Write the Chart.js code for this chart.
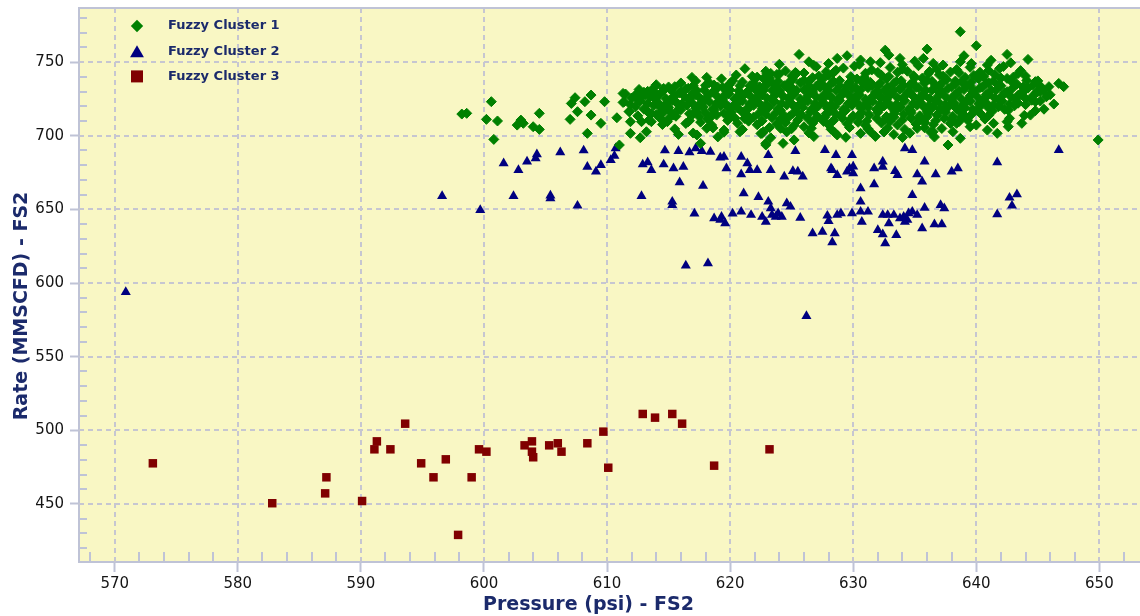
<!DOCTYPE html>
<html>
<head>
<meta charset="utf-8">
<title>Fuzzy clusters - Rate vs Pressure (FS2)</title>
<script src="https://cdn.jsdelivr.net/npm/chart.js@4.4.1/dist/chart.umd.min.js"></script>
<style>
    html, body { margin: 0; padding: 0; background: #ffffff; }
    #wrap { width: 1140px; height: 616px; }
</style>
</head>
<body>
<div id="wrap"><canvas id="cluster-chart" width="1140" height="616"></canvas></div>
<script>
/**
 * Fuzzy clustering of well FS2 — rate vs pressure scatter
 */

// Axis ranges and ticks
const xRange = [567.1, 653.3];
const yRange = [410.6, 786.7];
const xTicks = [570, 580, 590, 600, 610, 620, 630, 640, 650];
const yTicks = [450, 500, 550, 600, 650, 700, 750];
const xMinorTicks = [568, 572, 574, 576, 578, 582, 584, 586, 588, 592, 594, 596, 598,
    602, 604, 606, 608, 612, 614, 616, 618, 622, 624, 626, 628, 632, 634, 636, 638,
    642, 644, 646, 648, 652];
const yMinorTicks = [420, 430, 440, 460, 470, 480, 490, 510, 520, 530, 540, 560, 570,
    580, 590, 610, 620, 630, 640, 660, 670, 680, 690, 710, 720, 730, 740, 760, 770, 780];

const xTitle = 'Pressure (psi) - FS2';
const yTitle = 'Rate (MMSCFD) - FS2';
const seriesNames = ['Fuzzy Cluster 1', 'Fuzzy Cluster 2', 'Fuzzy Cluster 3'];
const seriesColors = ['#008000', '#000080', '#800000'];

// [pressure, rate]
const cluster1 = [
    // sparse left / edge points
    [598.2,714.7],[598.6,715.2],[600.6,723.1],[600.2,711.1],[601.1,710.0],[600.8,697.5],
    [603.0,710.6],[602.7,707.2],[603.2,708.4],[604.0,706.1],[604.5,704.3],[604.5,715.2],
    [607.0,711.1],[607.1,721.9],[607.4,725.8],[607.6,716.3],[608.2,723.1],[608.7,727.6],
    [608.7,714.0],[608.4,701.6],[609.5,708.4],[609.8,723.1],[610.8,712.2],[611.0,693.7],
    [611.3,728.7],[611.4,723.1],[611.8,716.3],[611.9,709.5],[612.3,727.6],[612.6,729.4],
    [612.8,709.5],[613.1,727.6],[613.5,729.2],[613.3,716.3],[613.8,729.4],[611.9,701.6],
    [612.7,698.6],[613.2,702.7],[613.6,709.5],[614.2,721.9],[614.3,715.2],[614.6,732.1],
    [614.9,709.5],[615.1,724.2],[615.5,733.3],[615.7,721.9],[615.4,714.0],[615.8,700.9],
    [616.4,731.7],[616.6,709.5],[616.9,739.6],[618.1,739.6],[617.3,700.5],[617.6,694.8],
    [618.1,705.0],[618.7,734.4],[618.9,714.0],[619.5,703.8],[619.9,734.4],[619.8,714.0],
    [620.7,727.6],[620.8,702.7],[621.2,711.8],[621.9,733.3],[622.4,728.7],[622.6,701.6],
    [622.9,694.8],[623.0,742.3],
    [638.7,770.6],[640.0,761.1],[632.6,758.1],[636.0,758.8],[642.5,755.2],[639.0,754.3],
    [625.6,755.2],[632.9,754.7],[633.8,752.5],[644.2,751.8],[628.7,752.5],[629.5,754.3],
    [630.6,751.4],[631.4,750.2],[626.4,750.2],[635.7,752.5],[636.5,749.1],[638.7,750.2],
    [640.9,748.0],[641.9,745.7],[643.4,742.3],[623.3,742.3],[623.8,741.6],[625.4,742.3],
    [640.3,741.2],[644.8,736.7],[645.9,733.3],[646.7,735.5],[647.1,733.3],[645.0,729.9],
    [645.7,726.5],[645.2,723.5],[644.4,714.0],[643.7,708.4],[642.7,711.8],[642.6,706.1],
    [641.4,708.4],[640.9,703.8],[641.7,701.6],[639.5,706.1],[639.0,714.0],[638.4,708.4],
    [638.1,702.7],[638.7,698.2],[637.7,693.7],[636.5,702.7],[622.9,693.7],[624.3,694.8],
    [625.2,697.1],[624.2,711.8],[624.1,705.0],[626.0,706.1],[628.7,700.5],[631.4,702.7],
    [633.3,700.9],[635.2,705.0],[622.7,702.7],[649.9,697.1],
    [630.5,748.5],[632.2,749.6],[634.0,748.2],[635.0,750.6],[637.3,748.0],[639.6,749.0],
    [641.2,751.2],[642.8,749.5],[628.0,749.0],[626.8,747.8],[624.0,748.5],
    [645.5,718.0],[646.3,721.5],[646.0,727.8],[644.8,717.0],[643.9,713.8],[642.5,709.5],
    // dense body
    [621.2,745.5],[624.5,744.0],[627.0,746.8],[627.8,743.5],[629.2,745.9],[630.1,747.2],
    [631.5,744.6],[633.0,746.3],[634.4,743.8],[635.3,747.5],[636.8,745.1],[637.9,743.2],
    [639.5,746.4],[641.0,744.3],[642.2,747.0],
    [622.9,743.8],[625.3,742.9],[628.6,744.4],[632.0,743.0],[634.0,745.2],[636.2,743.6],
    [638.4,744.9],[640.3,743.1],[643.6,744.2],
    [620.5,741.2],[622.2,739.8],[624.0,741.9],[626.0,742.6],[627.2,740.5],[628.4,742.9],
    [629.8,740.1],[631.0,742.4],[632.3,741.0],[633.6,743.1],[634.9,740.7],[636.1,742.2],
    [637.3,740.4],[638.6,742.8],[639.8,740.9],[641.5,741.6],[643.0,739.7],
    [621.8,740.3],[623.2,739.1],[625.0,740.6],[626.7,739.4],[628.0,741.0],[630.9,739.6],
    [632.9,740.2],[635.6,739.0],[637.0,741.3],[639.1,739.5],[640.6,740.1],[642.0,739.2],
    [644.0,740.5],
    [617.2,737.1],[619.3,738.6],[621.0,736.5],[622.7,738.9],[623.9,736.8],[625.1,738.2],
    [626.4,737.0],[627.6,739.1],[628.9,737.4],[630.3,738.5],[631.4,736.2],[632.7,738.8],
    [633.9,737.3],[635.0,739.4],[636.4,736.9],[637.6,738.1],[638.8,736.6],[640.2,738.7],
    [641.4,737.2],[642.5,738.9],[644.1,737.5],
    [618.3,736.0],[620.2,737.3],[621.9,735.8],[623.3,737.0],[624.8,736.3],[626.0,737.6],
    [627.3,735.9],[628.4,736.8],[629.7,736.1],[631.0,737.4],[632.2,735.7],[633.5,736.9],
    [634.8,736.2],[636.0,737.5],[637.2,735.8],[638.3,737.1],[639.6,736.4],[641.0,735.9],
    [642.9,736.6],[645.0,737.2],
    [614.0,734.6],[616.0,735.8],[618.0,734.2],[620.0,735.5],[621.6,733.9],[623.0,735.1],
    [624.4,734.0],[625.7,735.9],[627.0,733.6],[628.2,735.3],[629.5,734.1],[630.8,735.7],
    [632.0,733.8],[633.3,735.4],[634.6,734.3],[635.8,736.0],[637.0,733.7],[638.3,735.2],
    [639.5,734.0],[640.8,735.6],[642.0,733.9],[643.3,735.0],[644.6,734.2],
    [615.0,733.1],[617.0,733.9],[619.0,732.9],[620.8,734.0],[622.4,733.2],[623.7,733.8],
    [625.0,732.7],[626.4,734.1],[627.7,733.0],[628.9,733.7],[630.2,732.8],[631.5,734.2],
    [632.8,733.1],[634.1,733.9],[635.3,732.6],[636.7,734.0],[638.0,733.3],[639.2,733.8],
    [640.5,732.9],[641.8,734.1],[643.8,733.0],[645.2,733.7],
    [612.6,731.4],[613.8,732.5],[615.2,730.9],[616.6,732.2],[617.9,731.0],[619.4,732.8],
    [620.7,730.6],[622.0,731.9],[623.4,730.8],[624.7,732.4],[626.0,731.2],[627.3,732.9],
    [628.6,730.7],[629.9,731.8],[631.2,732.6],[632.5,730.5],[633.8,731.7],[635.1,732.7],
    [636.4,730.9],[637.7,732.1],[639.0,731.3],[640.3,732.6],[641.6,730.8],[642.9,731.9],
    [644.2,732.3],[645.5,730.6],
    [613.3,730.1],[614.6,730.8],[616.0,729.9],[617.3,730.6],[618.7,730.2],[620.0,731.0],
    [621.4,729.8],[622.7,730.7],[624.0,730.1],[625.4,730.9],[626.7,729.7],[628.0,730.5],
    [629.3,730.0],[630.6,731.1],[632.0,729.9],[633.3,730.6],[634.6,730.2],[635.9,730.8],
    [637.2,729.8],[638.6,730.7],[639.9,730.1],[641.2,730.9],[642.5,729.9],[643.9,730.6],
    [645.2,730.0],
    [611.5,728.3],[613.0,729.5],[614.3,728.0],[615.9,729.2],[617.2,727.9],[618.6,729.7],
    [619.9,728.4],[621.3,729.0],[622.6,727.7],[623.8,729.4],[625.2,728.2],[626.5,729.8],
    [627.9,728.1],[629.2,729.3],[630.5,727.8],[631.8,729.6],[633.1,728.5],[634.4,729.1],
    [635.7,727.6],[637.0,729.4],[638.4,728.3],[639.7,729.9],[641.0,728.0],[642.3,729.2],
    [643.6,728.6],[644.9,729.5],
    [612.8,727.0],[614.1,727.8],[615.5,726.9],[616.9,727.6],[618.2,727.2],[619.6,728.0],
    [621.0,726.8],[622.3,727.5],[623.6,727.1],[625.0,727.9],[626.3,726.9],[627.6,727.7],
    [629.0,727.0],[630.3,727.8],[631.6,726.8],[632.9,727.6],[634.2,727.2],[635.6,727.9],
    [636.9,726.8],[638.2,727.4],[639.5,727.0],[640.8,727.8],[642.1,726.9],[643.4,727.5],
    [644.6,727.1],
    [612.0,725.6],[613.5,726.4],[614.8,725.1],[616.3,726.7],[617.6,725.3],[619.0,726.2],
    [620.4,724.9],[621.7,726.5],[623.0,725.4],[624.3,726.8],[625.7,725.0],[627.0,726.3],
    [628.3,725.5],[629.7,726.9],[631.0,724.8],[632.2,726.1],[633.6,725.7],[634.9,726.6],
    [636.2,725.2],[637.5,726.4],[638.8,724.9],[640.1,726.2],[641.5,725.6],[642.8,726.7],
    [644.0,725.3],
    [612.5,724.0],[613.9,724.8],[615.3,723.9],[616.7,724.6],[618.0,724.2],[619.4,725.0],
    [620.8,723.8],[622.1,724.5],[623.5,724.1],[624.8,724.9],[626.1,723.9],[627.5,724.7],
    [628.8,724.0],[630.1,724.8],[631.4,723.8],[632.7,724.6],[634.1,724.2],[635.4,724.9],
    [636.7,723.8],[638.0,724.4],[639.3,724.0],[640.6,724.8],[641.9,723.9],[643.2,724.5],
    [644.5,724.1],
    [611.3,722.6],[612.7,723.4],[614.1,722.1],[615.5,723.8],[616.9,722.4],[618.3,723.1],
    [619.6,721.9],[621.0,723.6],[622.3,722.5],[623.6,723.3],[625.0,721.8],[626.3,723.5],
    [627.6,722.2],[628.9,723.9],[630.3,722.7],[631.6,723.2],[632.9,721.9],[634.2,723.7],
    [635.5,722.4],[636.9,723.0],[638.2,722.0],[639.5,723.6],[640.8,722.3],[642.1,723.4],
    [643.4,722.1],[644.8,723.1],
    [611.9,721.0],[613.3,721.8],[614.7,720.9],[616.1,721.6],[617.5,721.2],[618.9,722.0],
    [620.3,720.8],[621.6,721.5],[622.9,721.1],[624.2,721.9],[625.6,720.9],[626.9,721.7],
    [628.2,721.0],[629.6,721.8],[630.9,720.8],[632.2,721.6],[633.5,721.2],[634.9,721.9],
    [636.2,720.8],[637.5,721.4],[638.9,721.0],[640.2,721.8],[641.4,720.9],[642.7,721.5],
    [644.0,721.1],
    [612.3,719.6],[613.8,720.5],[615.0,719.2],[616.5,720.8],[617.8,719.4],[619.2,720.3],
    [620.6,719.0],[621.9,720.6],[623.2,719.7],[624.6,720.9],[625.9,719.3],[627.2,720.4],
    [628.5,719.8],[629.9,720.7],[631.2,719.1],[632.5,720.2],[633.8,719.5],[635.2,720.8],
    [636.5,719.4],[637.8,720.1],[639.1,719.0],[640.4,720.6],[641.8,719.7],[643.1,720.3],
    [613.0,718.0],[614.4,718.8],[615.8,717.9],[617.2,718.6],[618.6,718.2],[619.9,719.0],
    [621.3,717.8],[622.6,718.5],[623.9,718.1],[625.3,718.9],[626.6,717.9],[627.9,718.7],
    [629.2,718.0],[630.6,718.8],[631.9,717.8],[633.2,718.6],[634.5,718.2],[635.8,718.9],
    [637.1,717.8],[638.4,718.4],[639.7,718.0],[641.0,718.8],[642.3,717.9],
    [611.8,716.5],[613.2,717.4],[614.6,716.1],[616.0,717.6],[617.3,716.3],[618.7,717.2],
    [620.1,716.0],[621.4,717.8],[622.8,716.6],[624.1,717.1],[625.4,716.2],[626.8,717.5],
    [628.1,716.4],[629.4,717.3],[630.7,716.0],[632.1,717.7],[633.4,716.5],[634.7,717.0],
    [636.0,716.3],[637.4,717.6],[638.7,716.1],[640.0,717.3],[641.3,716.6],[642.6,717.2],
    [613.6,715.0],[615.2,715.8],[616.7,714.9],[618.0,715.6],[619.5,715.2],[621.0,716.0],
    [622.3,714.8],[623.7,715.5],[625.1,715.1],[626.5,715.9],[627.8,714.9],[629.2,715.7],
    [630.6,715.0],[632.0,715.8],[633.3,714.8],[634.7,715.6],[636.1,715.2],[637.5,715.9],
    [638.9,714.8],[640.3,715.4],
    [612.5,713.5],[614.0,714.4],[615.6,713.2],[617.0,714.7],[618.5,713.3],[619.9,714.1],
    [621.5,713.0],[622.9,714.6],[624.4,713.6],[625.8,714.2],[627.1,713.1],[628.6,714.5],
    [630.0,713.4],[631.3,714.3],[632.7,713.0],[634.1,714.6],[635.4,713.5],[636.8,714.0],
    [638.1,713.2],[639.6,714.4],[641.0,713.7],
    [614.3,712.0],[617.5,712.8],[620.4,711.9],[621.9,712.6],[623.4,712.2],[624.8,713.0],
    [626.3,711.8],[627.7,712.5],[629.1,712.1],[630.5,712.9],[631.9,711.9],[633.3,712.7],
    [634.7,712.0],[636.0,712.8],[637.4,711.8],[638.8,712.6],
    [613.4,710.6],[615.0,711.5],[616.7,710.2],[618.2,711.3],[619.8,710.4],[621.2,711.7],
    [622.6,710.1],[624.1,711.2],[625.5,710.5],[627.0,711.6],[628.4,710.3],[629.8,711.4],
    [631.1,710.0],[632.6,711.1],[634.0,710.7],[635.4,711.8],[636.7,710.2],[638.0,711.0],
    [639.3,710.5],[640.7,711.3],
    [617.6,709.2],[621.5,709.9],[624.5,708.9],[627.6,709.7],[630.4,709.1],[633.0,709.8],
    [635.8,709.0],[638.6,709.6],
    [614.5,707.6],[616.4,708.3],[618.5,707.2],[620.6,708.5],[622.2,707.4],[623.8,708.1],
    [625.2,707.0],[626.7,708.4],[628.0,707.5],[629.5,708.2],[631.0,707.1],[632.3,708.6],
    [633.6,707.3],[635.1,708.0],[636.5,707.6],[637.9,708.3],[640.0,707.2],
    [615.5,704.6],[618.6,705.3],[621.0,704.2],[623.2,705.5],[625.0,704.8],[626.6,705.1],
    [628.2,704.4],[629.7,705.6],[631.2,704.7],[632.8,705.2],[634.2,704.3],[635.8,705.4],
    [637.2,704.9],
    [617.0,701.8],[619.5,702.4],[622.5,701.5],[624.6,702.6],[626.4,701.9],[628.5,702.2],
    [630.6,701.6],[632.5,702.5],[634.6,701.7],[636.3,702.3],
    [619.0,699.2],[623.3,698.6],[626.8,699.4],[629.4,698.9],[631.8,699.5],[634.0,698.8],
    [636.6,699.1],
];

const cluster2 = [
    [601.6,681.2],[602.8,676.7],[603.5,682.4],[604.2,684.6],[604.3,687.3],[606.2,688.7],
    [608.1,690.0],[608.4,678.9],[609.1,675.6],[609.5,680.1],[610.3,683.5],[610.6,686.4],
    [610.7,691.4],[612.9,680.5],[613.3,681.9],[613.6,676.7],[614.6,680.5],[614.7,690.0],
    [615.4,677.8],[615.8,689.6],[616.2,678.9],[616.7,688.7],[617.2,691.4],[617.7,689.6],
    [618.4,689.1],[619.2,685.1],[619.5,685.7],[619.7,677.8],[620.9,685.7],[620.9,673.8],
    [621.4,681.2],[621.6,676.7],[622.2,676.7],[623.1,686.9],[623.3,676.7],[624.4,672.2],
    [625.1,676.0],[625.3,689.6],[625.5,675.6],[625.9,672.2],[627.7,690.3],[628.2,677.8],
    [628.6,686.9],[628.7,673.3],[629.7,677.8],[629.9,686.9],[630.0,674.4],[630.6,664.3],
    [630.6,655.2],[631.7,667.0],[631.7,677.8],[632.4,678.9],[632.4,682.4],[633.4,676.0],
    [633.6,673.3],[634.2,691.4],[634.8,690.3],[634.8,659.7],[635.2,673.8],[635.6,668.8],
    [635.8,682.4],[636.7,673.8],[638.0,675.6],[638.5,677.8],[641.7,681.9],[646.7,690.3],
    [642.7,657.9],[643.3,660.2],[642.9,652.5],[641.7,646.6],
    [596.6,659.0],[599.7,649.5],[602.4,659.0],[605.4,659.3],[605.4,657.5],[607.6,652.5],
    [612.8,659.0],[615.3,655.2],[615.3,652.9],[615.9,668.3],[617.1,647.1],[617.8,666.0],
    [618.7,643.9],[619.3,645.0],[619.6,640.5],[620.2,647.1],[620.9,648.4],[621.1,660.9],
    [621.7,646.2],[622.3,658.4],[622.6,645.0],[622.9,641.6],[623.1,655.2],[623.3,650.7],
    [623.7,645.0],[624.2,645.0],[624.6,654.1],[624.9,651.8],[625.7,644.3],[626.7,633.7],
    [627.5,634.8],[627.9,645.7],[628.0,642.1],[628.5,633.7],[628.3,627.6],[628.7,646.2],
    [629.0,647.3],[629.9,647.3],[630.6,648.4],[630.7,641.6],[631.2,648.4],[632.0,635.9],
    [632.4,633.0],[632.6,626.9],[632.4,646.2],[632.9,640.5],[633.3,646.2],[633.5,632.6],
    [633.8,643.9],[634.1,645.0],[634.4,642.8],[634.8,648.4],[635.2,646.2],[635.6,637.1],
    [635.8,651.1],[636.6,639.8],[637.2,639.8],[637.1,652.9],[637.4,650.7],
    [623.4,646.2],[623.9,647.3],[629.5,675.6],[630.0,679.0],[634.2,641.6],[634.5,647.3],
    [628.3,676.7],[619.2,642.8],[632.8,646.2],
    [616.4,611.8],[618.2,613.3],[626.2,577.6],[570.9,593.9],
];

const cluster3 = [
    [573.1,477.6],[582.8,450.5],[587.1,457.2],[587.2,468.1],[590.1,452.0],[591.1,487.1],
    [591.3,492.5],[592.4,487.1],[593.6,504.5],[594.9,477.6],[595.9,468.1],[596.9,480.3],
    [597.9,429.0],[599.0,468.1],[599.6,487.1],[600.2,485.5],[603.3,489.8],[603.9,492.5],
    [603.9,485.5],[604.0,481.7],[605.3,489.8],[606.0,491.2],[606.3,485.5],[608.4,491.2],
    [609.7,499.1],[610.1,474.6],[612.9,511.1],[613.9,508.6],[615.3,511.1],[616.1,504.5],
    [618.7,476.0],[623.2,487.1],
];

const pointStyles = ['rectRot', 'triangle', 'rect'];
const pointRadii = [5, 5.8, 6];
const legendRadii = [6.2, 8, 8.5];

const axisColor = '#1b2a6b';
const gridColor = '#c6c6d1';
const frameColor = '#bfc3d6';
const tickFont = { family: "'DejaVu Sans', sans-serif", size: 15 };

// Pale yellow plot area
const plotBackground = {
    id: 'plotBackground',
    beforeDraw(chart) {
        const { ctx, chartArea: a } = chart;
        ctx.save();
        ctx.fillStyle = '#f9f7c4';
        ctx.fillRect(a.left, a.top, a.right - a.left, a.bottom - a.top);
        ctx.restore();
    },
};

// Dashed grid, inward minor ticks and the top frame line
const plotDecor = {
    id: 'plotDecor',
    beforeDatasetsDraw(chart) {
        const { ctx, chartArea: a, scales: { x, y } } = chart;
        ctx.save();
        ctx.strokeStyle = gridColor;
        ctx.lineWidth = 2;
        ctx.setLineDash([5, 4]);
        ctx.beginPath();
        xTicks.forEach((v) => {
            const px = Math.round(x.getPixelForValue(v));
            ctx.moveTo(px, a.bottom);
            ctx.lineTo(px, a.top);
        });
        yTicks.forEach((v) => {
            const py = Math.round(y.getPixelForValue(v));
            ctx.moveTo(a.left, py);
            ctx.lineTo(a.right, py);
        });
        ctx.stroke();

        ctx.setLineDash([]);
        ctx.strokeStyle = frameColor;
        ctx.beginPath();
        xMinorTicks.forEach((v) => {
            const px = Math.round(x.getPixelForValue(v));
            ctx.moveTo(px, a.bottom);
            ctx.lineTo(px, a.bottom - 10);
        });
        yMinorTicks.forEach((v) => {
            const py = Math.round(y.getPixelForValue(v));
            ctx.moveTo(a.left, py);
            ctx.lineTo(a.left + 8, py);
        });
        ctx.moveTo(a.left, a.top);
        ctx.lineTo(a.right, a.top);
        ctx.stroke();
        ctx.restore();
    },
};

// Legend inside the plot (top-left) and the two axis titles
const labelsLayer = {
    id: 'labelsLayer',
    afterDatasetsDraw(chart) {
        const { ctx, chartArea: a } = chart;
        ctx.save();
        ctx.font = "bold 13px 'DejaVu Sans', sans-serif";
        ctx.textBaseline = 'middle';
        chart.data.datasets.forEach((ds, i) => {
            const cy = a.top + 18 + i * 25.2;
            ctx.fillStyle = ds.backgroundColor;
            Chart.helpers.drawPoint(ctx, {
                pointStyle: ds.pointStyle,
                radius: legendRadii[i],
                rotation: 0,
                borderWidth: 0,
            }, a.left + 58, cy + (i === 1 ? 2 : 0));
            ctx.fillStyle = axisColor;
            ctx.fillText(ds.label, a.left + 89, cy);
        });

        ctx.font = "bold 19px 'DejaVu Sans', sans-serif";
        ctx.textAlign = 'center';
        ctx.fillText(xTitle, (a.left + a.right) / 2 - 21, a.bottom + 43);
        ctx.translate(22, (a.top + a.bottom) / 2 + 21);
        ctx.rotate(-Math.PI / 2);
        ctx.fillText(yTitle, 0, 0);
        ctx.restore();
    },
};

const clusters = [cluster1, cluster2, cluster3];

new Chart(document.getElementById('cluster-chart'), {
    type: 'scatter',
    data: {
        datasets: clusters.map((pts, i) => ({
            label: seriesNames[i],
            data: pts.map(([x, y]) => ({ x, y })),
            backgroundColor: seriesColors[i],
            borderColor: seriesColors[i],
            borderWidth: i === 0 ? 1 : 0,
            pointStyle: pointStyles[i],
            pointRadius: pointRadii[i],
        })),
    },
    options: {
        responsive: false,
        devicePixelRatio: 1,
        animation: false,
        events: [],
        layout: { autoPadding: false, padding: { top: 8, right: 0, bottom: 0, left: 0 } },
        plugins: {
            legend: { display: false },
            tooltip: { enabled: false },
        },
        scales: {
            x: {
                type: 'linear',
                min: xRange[0],
                max: xRange[1],
                afterBuildTicks: (axis) => { axis.ticks = xTicks.map((value) => ({ value })); },
                afterFit: (axis) => {
                    axis.height = 54;
                    axis.paddingLeft = 0;
                    axis.paddingRight = 0;
                },
                ticks: { color: '#151515', font: tickFont, padding: 3, maxRotation: 0 },
                grid: {
                    drawOnChartArea: false,
                    tickLength: 10,
                    tickColor: frameColor,
                    tickWidth: 2,
                },
                border: { color: frameColor, width: 2 },
            },
            y: {
                type: 'linear',
                min: yRange[0],
                max: yRange[1],
                afterBuildTicks: (axis) => { axis.ticks = yTicks.map((value) => ({ value })); },
                afterFit: (axis) => {
                    axis.width = 79;
                    axis.paddingTop = 8;
                    axis.paddingBottom = 0;
                },
                ticks: { color: '#151515', font: tickFont, padding: 6 },
                grid: {
                    drawOnChartArea: false,
                    tickLength: 9,
                    tickColor: frameColor,
                    tickWidth: 2,
                },
                border: { color: frameColor, width: 2 },
            },
        },
    },
    plugins: [plotBackground, plotDecor, labelsLayer],
});
</script>
</body>
</html>
